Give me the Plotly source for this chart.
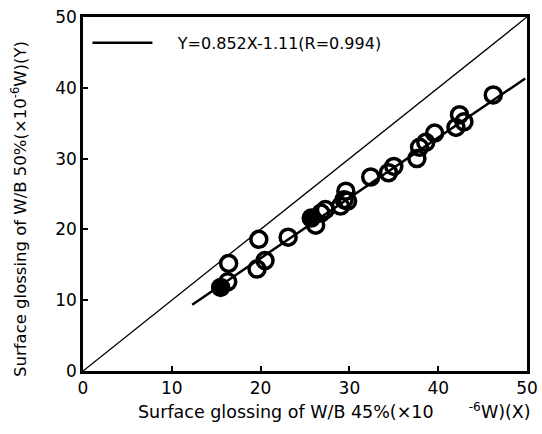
import plotly.graph_objects as go

# Data
x_vals = [15.5, 16.3, 16.4, 19.6, 19.8, 20.5, 23.1, 25.7, 26.2, 26.8, 27.3, 29.0,
          29.4, 29.6, 29.8, 32.4, 34.4, 35.0, 37.6, 37.9, 38.6, 39.6, 42.0, 42.4,
          42.9, 46.2]
y_vals = [11.8, 12.6, 15.2, 14.4, 18.6, 15.6, 18.9, 21.6, 20.6, 22.3, 22.8, 23.3,
          24.2, 25.4, 24.0, 27.4, 28.0, 28.9, 30.0, 31.6, 32.3, 33.6, 34.4, 36.2,
          35.2, 39.0]
filled = [True, False, False, False, False, False, False, True, False, False, False, False,
          False, False, False, False, False, False, False, False, False, False, False, False,
          False, False]

slope = 0.852
intercept = -1.11
fit_x = [12.3, 49.8]
diag = [0, 50]
tick_vals = [0, 10, 20, 30, 40, 50]

x_title = "Surface glossing of W/B 45%(×10<sup>" + "\u00a0" * 9 + "-6</sup>W)(X)"
y_title = "Surface glossing of W/B 50%(×10<sup>-6</sup>W)(Y)"

FONT = "DejaVu Sans, sans-serif"

fig = go.Figure()

fig.add_trace(go.Scatter(x=diag, y=diag, mode="lines",
                         line=dict(color="black", width=1.3), showlegend=False,
                         hoverinfo="skip"))

fig.add_trace(go.Scatter(x=x_vals, y=y_vals, mode="markers",
                         marker=dict(symbol=["circle" if f else "circle-open" for f in filled],
                                     size=16, color="black",
                                     line=dict(color="black", width=3.5)),
                         showlegend=False))

fig.add_trace(go.Scatter(x=fit_x, y=[slope * v + intercept for v in fit_x], mode="lines",
                         line=dict(color="black", width=2.5),
                         name="\u00a0\u00a0\u00a0\u00a0Y=0.852X-1.11(R=0.994)"))

axis_common = dict(range=[0, 50], tickvals=tick_vals, showline=True, linewidth=2.5,
                   linecolor="black", mirror=True, showgrid=False, zeroline=False,
                   ticks="inside", ticklen=5, tickwidth=2, tickcolor="black",
                   automargin=False,
                   tickfont=dict(family=FONT, size=17, color="black"))

fig.update_xaxes(**axis_common)
fig.update_yaxes(**axis_common)

fig.add_annotation(text=x_title, xref="paper", yref="paper",
                   x=(136 - 83) / 444, y=-(424 - 371) / 354,
                   xanchor="left", yanchor="bottom", showarrow=False,
                   font=dict(family=FONT, size=17.5, color="black"))
fig.add_annotation(text=y_title, xref="paper", yref="paper",
                   x=(19 - 83) / 444, y=(371 - 209) / 354,
                   xanchor="center", yanchor="middle", textangle=-90, showarrow=False,
                   font=dict(family=FONT, size=16.5, color="black"))

fig.update_layout(
    width=542, height=434,
    margin=dict(l=83, r=15, t=17, b=63),
    paper_bgcolor="white", plot_bgcolor="white",
    font=dict(family=FONT, color="black"),
    legend=dict(x=0.01, y=0.975, xanchor="left", yanchor="top",
                bgcolor="rgba(0,0,0,0)", itemwidth=60,
                font=dict(family=FONT, size=16, color="black")),
)

fig.write_html("out.html")
